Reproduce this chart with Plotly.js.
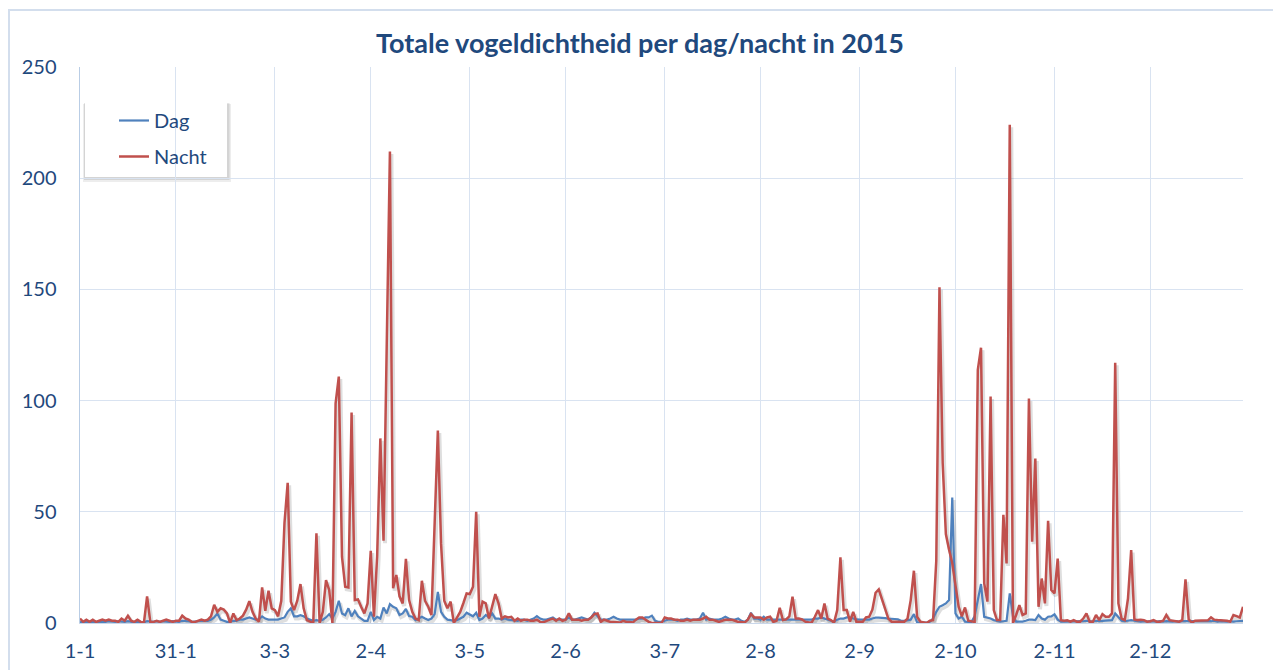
<!DOCTYPE html>
<html><head><meta charset="utf-8">
<script src="https://cdn.plot.ly/plotly-3.0.1.min.js"></script>
<style>html,body{margin:0;padding:0;background:#fff}#chart{width:1273px;height:670px}</style>
</head><body><div id="chart"></div>
<script>
// ---- data (one value per day of 2015, starting 1 January) ----
const seriesNames = ['Dag', 'Nacht'];

const dag = [
 0.5,0.3,0.5,0.3,0.5,0.5,0.3,0.5,0.5,0.8,
 0.5,0.5,0.8,0.5,0.5,0.8,0.5,0.3,0.5,0.5,
 0.3,0.8,0.5,0.5,0.8,0.5,0.8,0.5,0.5,0.8,
 0.5,0.5,1,1,0.8,0.5,0.5,0.8,1,1,
 1,1.5,2.5,4.3,1.5,1,0.5,0.5,1,1,
 1.5,1.5,2,2.5,2,1.5,1.5,3,2,1.5,
 1.5,1.5,1.5,2,2.5,5,6.6,3,3,3.5,
 3,2,1.5,1,1.3,1,1.5,2.5,4,2,
 5,10,4.3,3.5,6.6,3,5.4,3,2,1,
 1,5,1.3,2.8,2,7,4.3,8.5,7.3,6.6,
 3.6,4.3,6.3,3.1,2.8,1.3,2,2.8,2,1.3,
 2,4,14,5,2.8,1.5,1.3,1,1.3,2,
 2.8,4.6,3.6,3,4.6,1.3,2,3.6,2.5,4.3,
 2,2,1.5,2,1.5,1.3,1,1,1.5,1.5,
 1,1.5,2,3.1,2,1.5,1.5,2,2.5,1.5,
 1.5,1.5,1.5,2.4,1.5,1.5,2,2.5,2,1.5,
 2.5,4.6,3,1.5,1.5,1.5,2,2.8,2,1.5,
 1.5,1.5,1.5,1.5,1.5,2,2,2.5,2.5,3.3,
 1,0.5,0.5,1,1.5,1.5,1.5,1,1.5,1.5,
 2,1.5,1.5,1.5,2,4.6,1.5,2,1.5,1.5,
 1.5,2,2.8,2,1.5,1.5,2,1,0.5,1.5,
 4.6,2,2,1.5,2.8,1.5,1.5,1.5,1.5,1.5,
 1.6,1.5,1.6,1.5,1.5,1.5,1.5,1.5,1.5,1.5,
 2,2,2.5,2,1.5,1,0.6,1.5,2,2,
 2.5,2.5,2,1.6,1.5,1.5,1.3,1.5,2,2.4,
 2.4,2.4,2.2,2,2,1.8,1.6,1,1,1.3,
 1.5,4,0.3,0.2,0.2,0.2,0.6,2,5,7.3,
 8,8.8,10.3,56.4,4.3,2,2.8,0.6,0.5,0.5,
 3,10.3,17.5,2.8,2.5,2,1.3,1,0.6,0.8,
 1,13.3,2.8,0.6,0.6,0.6,1,1.5,1.5,1.3,
 3.6,2,1.5,2.8,3,3.9,1.5,0.6,0.6,0.6,
 0.6,0.6,0.8,0.6,0.8,1,0.8,0.6,1,0.8,
 1,1,1,1.3,4.3,2.8,1,0.8,1,1.3,
 1,0.8,0.6,0.8,0.6,0.8,0.6,0.6,0.8,0.6,
 0.8,0.6,0.6,0.8,0.6,0.8,0.8,0.6,0.6,0.8,
 0.6,0.8,0.6,0.6,0.8,1,0.6,0.8,0.6,0.6,
 0.8,0.6,0.8,0.8,1
];

const nacht = [
 2,0.5,1.5,0.5,1.5,0.5,1,1.5,1,1.5,
 1,1,0.5,2,1,3.2,1,0.5,1.5,0.5,
 0,12,0.5,0.5,1,0.5,1,1.5,1,0.5,
 1,1,3.3,2,1.5,0.5,0.5,1,1.5,1,
 1.5,3,8.2,5,6.6,6,4.3,0,4.3,1.3,
 2,3.3,6,9.8,5,2,0.6,16,5.5,14.5,
 6.6,5.8,3,10,45,63,9.6,5.8,10,17.5,
 6.6,1.3,0.5,0,40.3,0,5,19.3,14.8,0,
 98.8,110.8,29.8,16.3,16,94.6,10.3,10.6,7.3,4.3,
 8.8,32.5,2.8,30,83,37,125,212,15.6,21.6,
 12,8.8,28.8,10.3,5,2,1.3,19,10,7.3,
 3.6,50,86.5,35.8,10,6.6,9.6,0,2.8,5,
 9,13.3,13,16.3,50,2.8,9.6,8.8,2,8,
 13,8.8,2,3,2.5,2.8,1,2,1,1.5,
 1.5,1,1,1.5,0.5,0.3,1,1.5,2,1,
 2,1,1.5,4.3,1.5,1.5,1.5,1,1.5,1.5,
 2.5,4,4.3,0.5,1.5,1,0.5,0.5,0.5,0.2,
 1,0.5,0.5,0.2,1.5,2.5,2.5,1.5,0.5,0,
 0,0,0,2.5,2,2,1.5,1.5,1,1,
 1.5,1,1.5,1.5,1.5,2,2.8,1.5,1.5,1,
 0.5,1,1.5,1.5,1.5,1,0.5,0.5,0.2,1.5,
 4,2.5,2.5,2.5,1.5,2.5,2.8,0.5,1,6.8,
 1.3,1.6,3,11.8,2,2,1.6,0.6,0.3,0.2,
 2.8,5.8,2,8.8,2,1.3,0.2,5.8,29.5,5.8,
 5.8,0.6,5,0.6,0.6,0.6,2.5,2.8,6,13.6,
 15.1,11,6.6,2,0.6,0.6,0.6,0.6,0.6,2,
 10.3,23.5,2.8,0.6,0.2,0,1,1.3,28,151,
 72,40,33,27,17,7.3,3,7,1,0.6,
 0.5,113.8,123.8,17.8,9.6,101.8,5.8,1.3,1.3,48.6,
 26.8,224,0,3.6,8,3.6,4.3,100.9,36.6,73.9,
 7.3,20,8.8,45.9,14.8,13.3,29,1.3,1,1.2,
 0.6,1.3,0.6,0.6,2,4.3,0.6,0.6,3.6,1.3,
 4,2.8,2.8,4.3,117,8.8,2,1.3,11,32.8,
 1.6,1.3,1.5,1.3,0.6,0.8,1.3,0.6,0.6,1,
 3.6,1.3,1,1,0.6,1.3,19.6,1.6,0.2,1,
 1,1,1,1.2,2.5,1.5,1.3,1.3,1,1,
 0.6,3.6,3.1,2.5,7.3
];

const tickDates  = ['2015-01-01','2015-01-31','2015-03-03','2015-04-02','2015-05-03','2015-06-02',
                    '2015-07-03','2015-08-02','2015-09-02','2015-10-02','2015-11-02','2015-12-02'];
const tickLabels = ['1-1','31-1','3-3','2-4','3-5','2-6','3-7','2-8','2-9','2-10','2-11','2-12'];
const yTicks = [0, 50, 100, 150, 200, 250];

// ---- build ----
const DAY = 86400000;
const t0 = Date.UTC(2015, 0, 1);
function fmt(ms){ return new Date(ms).toISOString().replace('T',' ').replace('Z',''); }
const dates = dag.map((_, i) => fmt(t0 + i * DAY));
const xr = [fmt(t0), fmt(t0 + (dag.length - 1) * DAY)];

const W = 1273, H = 670, L = 80, R = 30, T = 67, B = 47;
const pw = W - L - R, ph = H - T - B;
const pxDay = pw / (dag.length - 1);
const pxVal = ph / 250;
// shadow offsets (pixels)
const sdx = 1.5, sdy = 2.5;
const xrShadow = [fmt(t0 - sdx / pxDay * DAY), fmt(t0 + (dag.length - 1) * DAY - sdx / pxDay * DAY)];
const yrShadow = [sdy / pxVal, 250 + sdy / pxVal];

const blue = '#4f81bd', red = '#c0504d', txt = '#1f497d', grid = '#d9e3f1';
const font = 'Lato, "Open Sans", sans-serif';

const traces = [
  // invisible carrier so that the main axes (grid, ticks) are drawn
  {x: dates, y: nacht, xaxis: 'x', yaxis: 'y', mode: 'lines', showlegend: false, hoverinfo: 'skip',
   opacity: 0, line: {color: 'rgba(0,0,0,0)', width: 0}},
  {x: dates, y: dag, xaxis: 'x2', yaxis: 'y2', mode: 'lines', showlegend: false, hoverinfo: 'skip',
   line: {color: 'rgba(0,0,0,0.13)', width: 3.5}},
  {x: dates, y: nacht, xaxis: 'x2', yaxis: 'y2', mode: 'lines', showlegend: false, hoverinfo: 'skip',
   line: {color: 'rgba(0,0,0,0.13)', width: 4}},
  {x: dates, y: dag, name: seriesNames[0], xaxis: 'x3', yaxis: 'y3', mode: 'lines', legendgroup: 'a',
   line: {color: blue, width: 2.2}},
  {x: dates, y: nacht, name: seriesNames[1], xaxis: 'x3', yaxis: 'y3', mode: 'lines', legendgroup: 'b',
   line: {color: red, width: 2.5}}
];

const px2x = p => (p - L) / pw;
const px2y = p => (H - B - p) / ph;

const shapes = [
  // chart border
  {type: 'rect', xref: 'paper', yref: 'paper', layer: 'below',
   x0: px2x(9), x1: px2x(1290), y0: px2y(700), y1: px2y(10),
   line: {color: '#d3deed', width: 2}, fillcolor: 'rgba(0,0,0,0)'},
  // legend shadow
  {type: 'rect', xref: 'paper', yref: 'paper', layer: 'below',
   x0: px2x(83), x1: px2x(231), y0: px2y(182), y1: px2y(104),
   line: {width: 0}, fillcolor: 'rgba(0,0,0,0.07)'},
  {type: 'rect', xref: 'paper', yref: 'paper', layer: 'below',
   x0: px2x(84), x1: px2x(229.5), y0: px2y(180), y1: px2y(103),
   line: {width: 0}, fillcolor: 'rgba(0,0,0,0.10)'},
  // legend box
  {type: 'rect', xref: 'paper', yref: 'paper', layer: 'below',
   x0: px2x(85), x1: px2x(227), y0: px2y(177), y1: px2y(102),
   line: {width: 0}, fillcolor: '#ffffff'}
];

const layout = {
  width: W, height: H,
  margin: {l: L, r: R, t: T, b: B},
  paper_bgcolor: '#ffffff', plot_bgcolor: 'rgba(0,0,0,0)',
  showlegend: true,
  title: {text: '<b>Totale vogeldichtheid per dag/nacht in 2015</b>',
          font: {family: font, size: 27, color: txt},
          xref: 'container', x: 640 / W, xanchor: 'center',
          yref: 'container', y: 1 - 44 / H, yanchor: 'middle'},
  xaxis: {type: 'date', range: xr, tickmode: 'array', tickvals: tickDates, ticktext: tickLabels,
          showgrid: true, gridcolor: grid, gridwidth: 1, showline: true, linecolor: '#c9d7ea', linewidth: 1,
          zeroline: false, ticks: '', ticklabelstandoff: 10,
          tickfont: {family: font, size: 20, color: txt}, fixedrange: true},
  yaxis: {range: [0, 250], tickmode: 'array', tickvals: yTicks, ticktext: yTicks.map(String),
          showgrid: true, gridcolor: grid, gridwidth: 1, showline: true, linecolor: '#b9cde5', linewidth: 1.5,
          zeroline: false, ticks: '', ticklabelstandoff: 18,
          tickfont: {family: font, size: 20, color: txt}, fixedrange: true},
  xaxis2: {type: 'date', overlaying: 'x', range: xrShadow, visible: false, fixedrange: true},
  yaxis2: {overlaying: 'y', range: yrShadow, visible: false, fixedrange: true},
  xaxis3: {type: 'date', overlaying: 'x', range: xr, visible: false, fixedrange: true},
  yaxis3: {overlaying: 'y', range: [0, 250], visible: false, fixedrange: true},
  legend: {x: px2x(114), y: px2y(101), xanchor: 'left', yanchor: 'top',
           bgcolor: 'rgba(0,0,0,0)', borderwidth: 0, tracegroupgap: 7, traceorder: 'grouped',
           itemwidth: 30, font: {family: font, size: 20, color: txt}},
  shapes: shapes
};

Plotly.newPlot('chart', traces, layout, {displayModeBar: false, staticPlot: true});
</script>
</body></html>
